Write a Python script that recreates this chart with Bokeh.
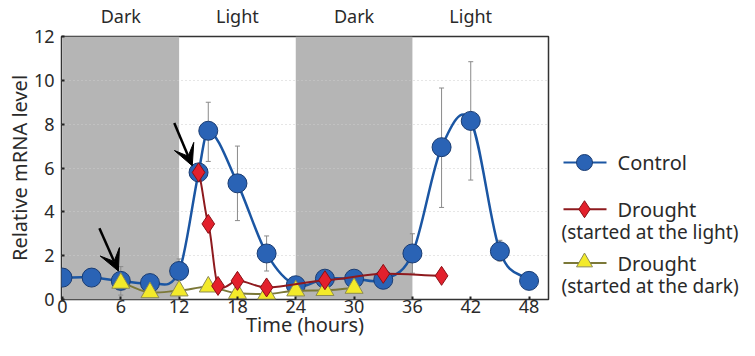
import numpy as np
from bokeh.plotting import figure
from bokeh.models import Range1d, FixedTicker, Arrow, VeeHead, ColumnDataSource, LinearAxis
from bokeh.layouts import row
from bokeh.embed import file_html
from bokeh.resources import INLINE
from bokeh.core.properties import value

# ---------------- data ----------------
ctrl_t = [0, 3, 6, 9, 12, 14, 15, 18, 21, 24, 27, 30, 33, 36, 39, 42, 45, 48]
ctrl_v = [1.0, 1.0, 0.85, 0.75, 1.3, 5.8, 7.7, 5.3, 2.1, 0.65, 0.95, 0.95, 0.9, 2.1, 6.95, 8.15, 2.2, 0.85]
ctrl_lo = [1.0, 1.0, 0.2, 0.75, 0.9, 5.8, 6.3, 3.6, 1.3, 0.5, 0.95, 0.95, 0.9, 1.2, 4.2, 5.45, 1.75, 0.85]
ctrl_hi = [1.0, 1.0, 1.5, 0.75, 1.85, 5.8, 9.0, 7.0, 2.9, 0.8, 0.95, 0.95, 0.9, 3.0, 9.65, 10.85, 2.7, 0.85]

light_t = [14, 15, 16, 18, 21, 27, 33, 39]
light_v = [5.8, 3.45, 0.62, 0.85, 0.55, 0.88, 1.17, 1.08]

dark_t = [6, 9, 12, 15, 18, 21, 24, 27, 30]
dark_v = [0.75, 0.32, 0.4, 0.58, 0.28, 0.25, 0.4, 0.42, 0.52]

dark_start = [0, 24]
dark_end = [12, 36]

period_ticks = [6, 18, 30, 42]
period_labels = ["Dark", "Light", "Dark", "Light"]

x_ticks = [0, 6, 12, 18, 24, 30, 36, 42, 48]
y_ticks = [0, 2, 4, 6, 8, 10, 12]

arrow_x0 = [3.8, 11.5]
arrow_y0 = [3.25, 8.05]
arrow_x1 = [5.75, 13.35]
arrow_y1 = [1.3, 6.1]

legend_titles = ["Control", "Drought", "Drought"]
legend_notes = ["(started at the light)", "(started at the dark)"]

FONT = "Noto Sans"
TXT = "#2a2a2a"

BLUE_L, BLUE_F, BLUE_E = "#1b56a3", "#2a63b5", "#1a3c72"
RED_L, RED_F, RED_E = "#8e1a1e", "#e3202c", "#8a1015"
YEL_L, YEL_F, YEL_E = "#7b7838", "#f3ea2a", "#8c8a55"


def smooth(xs, ys, tension=1.0):
    """Bezier segments through every data point (cubic Hermite on x)."""
    xs = np.asarray(xs, float)
    ys = np.asarray(ys, float)
    n = len(xs)
    m = np.zeros(n)
    for i in range(n):
        a = max(i - 1, 0)
        b = min(i + 1, n - 1)
        m[i] = (ys[b] - ys[a]) / (xs[b] - xs[a]) * tension
    h = xs[1:] - xs[:-1]
    return dict(
        x0=xs[:-1], y0=ys[:-1], x1=xs[1:], y1=ys[1:],
        cx0=xs[:-1] + h / 3, cy0=ys[:-1] + m[:-1] * h / 3,
        cx1=xs[1:] - h / 3, cy1=ys[1:] - m[1:] * h / 3,
    )


p = figure(width=552, height=340, output_backend="svg", toolbar_location=None,
           x_range=Range1d(-0.1, 50.0), y_range=Range1d(0, 12),
           min_border_left=61, min_border_right=4, min_border_top=30, min_border_bottom=40)
p.background_fill_color = "white"
p.border_fill_color = "white"
p.outline_line_color = "#333333"
p.outline_line_width = 1.5

# dark periods
p.quad(left=dark_start, right=dark_end, bottom=0, top=12,
       fill_color="#b5b5b5", line_color=None, level="image")

p.xgrid.visible = False
p.ygrid.ticker = FixedTicker(ticks=y_ticks[1:-1])
p.ygrid.grid_line_color = "#cdcdcd"
p.ygrid.grid_line_dash = "1 3"
p.ygrid.grid_line_width = 1

for ax in (p.xaxis[0], p.yaxis[0]):
    ax.axis_line_color = None
    ax.major_tick_in = 3
    ax.major_tick_out = 0
    ax.major_tick_line_color = "#222222"
    ax.major_tick_line_width = 2
    ax.minor_tick_line_color = None
    ax.major_label_text_font = FONT
    ax.major_label_text_font_size = "18px"
    ax.major_label_text_color = TXT
    ax.axis_label_text_font = FONT
    ax.axis_label_text_font_style = "normal"
    ax.axis_label_text_color = TXT

p.xaxis.ticker = FixedTicker(ticks=x_ticks)
p.yaxis.ticker = FixedTicker(ticks=y_ticks)
p.xaxis.axis_label = "Time (hours)"
p.xaxis.axis_label_text_font_size = "20px"
p.xaxis.major_label_standoff = 0
p.xaxis.axis_label_standoff = -5
p.yaxis.axis_label = "Relative mRNA level"
p.yaxis.axis_label_text_font_size = "20px"
p.yaxis.major_label_standoff = 7
p.yaxis.axis_label_standoff = -2

top = LinearAxis(ticker=FixedTicker(ticks=period_ticks),
                 major_label_overrides={t: s for t, s in zip(period_ticks, period_labels)})
top.axis_line_color = None
top.major_tick_line_color = None
top.minor_tick_line_color = None
top.major_label_text_font = FONT
top.major_label_text_font_size = "18px"
top.major_label_text_color = TXT
top.major_label_standoff = 3
p.add_layout(top, "above")

# error bars
idx = [i for i in range(len(ctrl_t)) if ctrl_hi[i] > ctrl_lo[i]]
et = [ctrl_t[i] for i in idx]
elo = [ctrl_lo[i] for i in idx]
ehi = [ctrl_hi[i] for i in idx]
p.segment(x0=et, y0=elo, x1=et, y1=ehi, line_color="#8a8a8a", line_width=1)
p.scatter(x=et + et, y=elo + ehi, marker="dash", size=5, line_color="#8a8a8a", line_width=1)

# curves
sb = smooth(ctrl_t, ctrl_v)
p.bezier(source=ColumnDataSource(sb), x0="x0", y0="y0", x1="x1", y1="y1",
         cx0="cx0", cy0="cy0", cx1="cx1", cy1="cy1", line_color=BLUE_L, line_width=2.5)
p.scatter(ctrl_t, ctrl_v, marker="circle", size=19, fill_color=BLUE_F, line_color=BLUE_E, line_width=1)

sy = smooth(dark_t, dark_v, tension=0.5)
p.bezier(source=ColumnDataSource(sy), x0="x0", y0="y0", x1="x1", y1="y1",
         cx0="cx0", cy0="cy0", cx1="cx1", cy1="cy1", line_color=YEL_L, line_width=2)
p.scatter(dark_t, dark_v, marker="triangle", size=18, fill_color=YEL_F, line_color=YEL_E, line_width=1)

sr = smooth(light_t, light_v, tension=0.5)
p.bezier(source=ColumnDataSource(sr), x0="x0", y0="y0", x1="x1", y1="y1",
         cx0="cx0", cy0="cy0", cx1="cx1", cy1="cy1", line_color=RED_L, line_width=2)
p.scatter(light_t, light_v, marker="diamond", size=19, fill_color=RED_F, line_color=RED_E, line_width=1)

for xa, ya, xb, yb in zip(arrow_x0, arrow_y0, arrow_x1, arrow_y1):
    p.add_layout(Arrow(end=VeeHead(size=21, fill_color="black", line_color="black", line_width=1),
                       x_start=xa, y_start=ya, x_end=xb, y_end=yb,
                       line_color="black", line_width=2.5))

# ---------------- legend panel (shares the y scale of the chart) ----------------
lg = figure(width=187, height=340, output_backend="svg", toolbar_location=None,
            x_range=Range1d(0, 187), y_range=p.y_range,
            min_border_left=0, min_border_right=0, min_border_top=30, min_border_bottom=40,
            outline_line_color=None)
lg.axis.visible = False
lg.grid.visible = False

row_y = [6.25, 4.12, 1.66]
note_y = [3.1, 0.63]
lg.segment(x0=[11] * 3, y0=row_y, x1=[54] * 3, y1=row_y, line_color=[BLUE_L, RED_L, YEL_L], line_width=2)
lg.scatter([32], [row_y[0]], marker="circle", size=16, fill_color=BLUE_F, line_color=BLUE_E)
lg.scatter([32], [row_y[1]], marker="diamond", size=17, fill_color=RED_F, line_color=RED_E)
lg.scatter([32], [row_y[2] + 0.04], marker="triangle", size=16, fill_color=YEL_F, line_color=YEL_E)
lg.text(x=[65] * 3, y=row_y, text=legend_titles, text_font=value(FONT), text_font_size="20px",
        text_baseline="middle", text_color=TXT)
lg.text(x=[9, 9], y=note_y, text=legend_notes, text_font=value(FONT), text_font_size="19px",
        text_baseline="middle", text_color=TXT)

layout = row(p, lg)
open("out.html", "w").write(file_html(layout, INLINE))
